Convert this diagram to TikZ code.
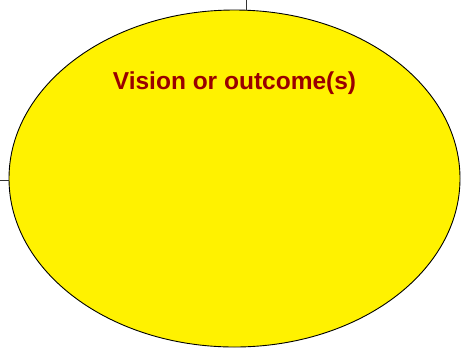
\documentclass[tikz,border=0pt]{standalone}
\usepackage{fontspec}
\setmainfont{Liberation Sans}
\usetikzlibrary{shapes.geometric, positioning}
\definecolor{visionred}{HTML}{990000}

\begin{document}
\begin{tikzpicture}[x=1pt, y=-1pt, thick,
    goalshape/.style={ellipse, draw=black, line width=0.9pt, fill=yellow,
                      minimum width=451pt, minimum height=337pt, inner sep=0pt},
    goaltext/.style={font=\bfseries\fontsize{24.5}{28}\selectfont, text=visionred},
    link/.style={draw=black!80, line width=0.8pt}]
  \useasboundingbox (0,0) rectangle (462,349);

  % the outcome ellipse
  \node[goalshape] (vision) at (234.5,178.5) {};
  \node[goaltext, anchor=base] (visiontext) at (234.5,89.5) {Vision or outcome(s)};

  % incoming links
  \coordinate (fromtop) at (246,0);
  \coordinate (fromleft) at (0,180);
  \draw[link] (fromtop) -- (fromtop |- vision.north);
  \draw[link] (fromleft) -- (fromleft -| vision.west);
\end{tikzpicture}
\end{document}
